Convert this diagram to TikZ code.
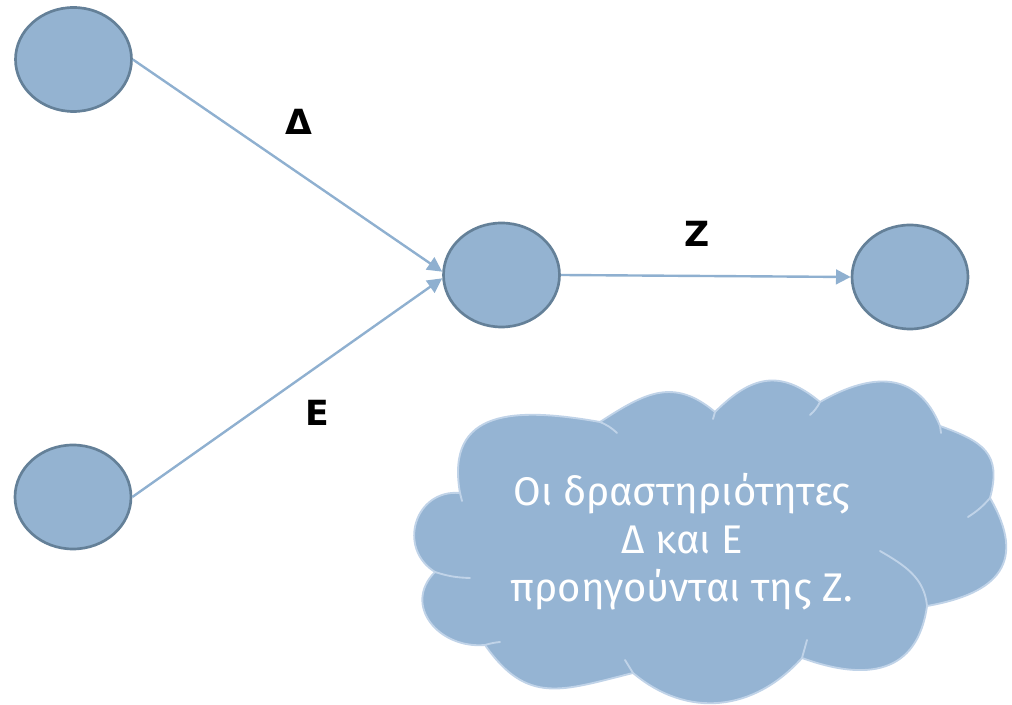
\documentclass[tikz,border=0pt]{standalone}
\usepackage{fontspec}
\setmainfont{Fira Sans}
\newfontfamily\labelfont{DejaVu Sans}
\usetikzlibrary{shapes.geometric, arrows.meta}

\definecolor{nodefill}{RGB}{148,179,209}
\definecolor{nodeedge}{RGB}{100,128,152}
\definecolor{linkblue}{RGB}{143,176,208}
\definecolor{cloudfill}{RGB}{149,180,211}
\definecolor{cloudedge}{RGB}{192,211,232}

\begin{document}
\begin{tikzpicture}[x=0.75pt, y=0.75pt,
  activity/.style={ellipse, draw=nodeedge, fill=nodefill, line width=2pt,
    minimum width=87pt, minimum height=78pt, inner sep=0pt},
  link/.style={draw=linkblue, line width=1.8pt,
    -{Triangle[length=11pt, width=11pt]}},
  tag/.style={font=\labelfont\bfseries\fontsize{26}{29}\selectfont, text=black,
    inner sep=0pt},
  cloudbody/.style={fill=cloudfill, draw=cloudedge, line width=1.4pt},
  cloudcrease/.style={draw=cloudedge, line width=1.4pt, line cap=round},
  cloudtext/.style={align=center, text=white,
    font=\fontsize{30}{36}\selectfont}]
\useasboundingbox (0,0) rectangle (1012,705);

% activity nodes
\node[activity] (d) at (73.5,645.5) {};
\node[activity] (e) at (73,208) {};
\node[activity] (z) at (501.5,430) {};
\node[activity] (w) at (910,428) {};

% precedence links
\draw[link] (d.east) -- ([yshift=2.5pt]z.west);
\draw[link] (e.east) -- ([yshift=-2.5pt]z.west);
\draw[link] (z.east) -- (w.west);

% link labels
\node[tag] (ld) at (299,583) {Δ};
\node[tag] (lz) at (697,471) {Ζ};
\node[tag] (le) at (317.5,292) {Ε};

% cloud callout: junction points between the bumps
\coordinate (j11) at (600,283);
\coordinate (j1) at (460,212);
\coordinate (j2) at (435,133);
\coordinate (j3) at (485,60);
\coordinate (j4) at (633,32);
\coordinate (j5) at (802,47);
\coordinate (j6) at (927,99);
\coordinate (j7) at (990,207);
\coordinate (j8) at (940,279);
\coordinate (j9) at (820,303);
\coordinate (j10) at (715,293);

\path[cloudbody] (j11) to[out=170,in=100,looseness=1.4] (j1)
  to[out=175,in=148,looseness=1.4] (j2)
  to[out=225,in=185,looseness=1.35] (j3)
  to[out=-55,in=194,looseness=1.25] (j4)
  to[out=-40,in=228,looseness=1.08] (j5)
  to[out=-20,in=262,looseness=1.3] (j6)
  to[out=10,in=-60,looseness=1.5] (j7)
  to[out=75,in=-20,looseness=1.35] (j8)
  to[out=112,in=30,looseness=1.25] (j9)
  to[out=140,in=45,looseness=1.25] (j10)
  to[out=140,in=33,looseness=1.2] (j11) -- cycle;

% inner creases of the cloud
\draw[cloudcrease] (j11) to[bend left=10] (617,272);
\draw[cloudcrease] (j10) -- (713,286);
\draw[cloudcrease] (j9) to[bend left=10] (810,290);
\draw[cloudcrease] (j8) -- (941,272);
\draw[cloudcrease] (j7) to[bend left=8] (968,188);
\draw[cloudcrease] (880,154) to[out=-30,in=95] (j6);
\draw[cloudcrease] (807,65) -- (j5);
\draw[cloudcrease] (625,45) -- (j4);
\draw[cloudcrease] (j3) to[bend left=5] (500,63);
\draw[cloudcrease] (j2) to[bend right=8] (470,127);
\draw[cloudcrease] (j1) -- (462,204);

\node[cloudtext] (note) at (682,163) {Οι δραστηριότητες\\Δ και Ε\\προηγούνται της Ζ.};
\end{tikzpicture}
\end{document}
